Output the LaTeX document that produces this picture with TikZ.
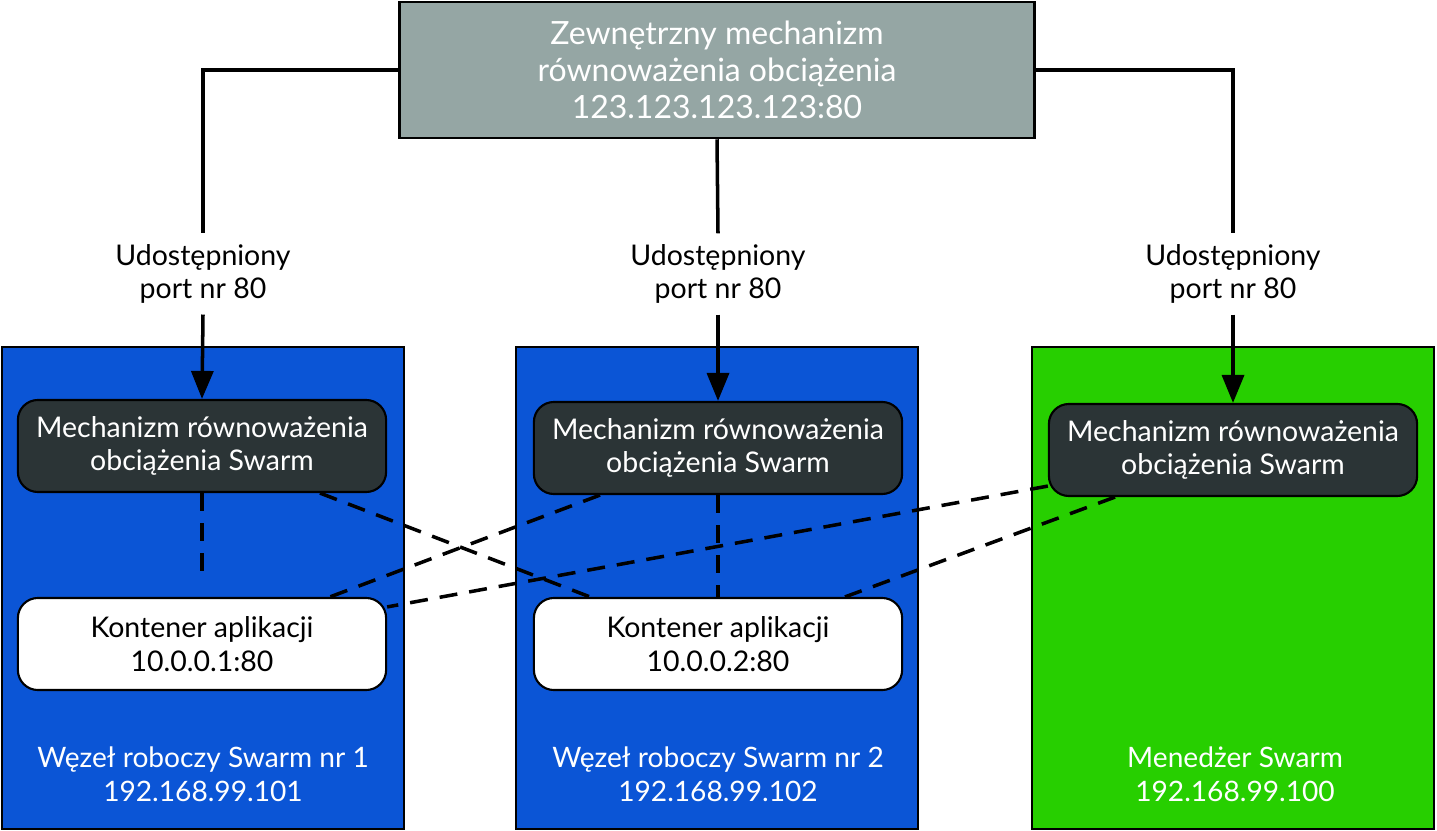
\documentclass[tikz,border=0pt]{standalone}
\usepackage{fontspec}
\setmainfont{Lato}
\usetikzlibrary{arrows.meta,calc}
\definecolor{ExtClr}{RGB}{149,166,164}
\definecolor{WorkerClr}{RGB}{11,85,214}
\definecolor{ManagerClr}{RGB}{39,207,0}
\definecolor{BalancerClr}{RGB}{43,52,54}

\begin{document}
\begin{tikzpicture}[x=0.01cm,y=-0.01cm,
  extbox/.style={draw=black,line width=0.7pt,fill=ExtClr,text=white,
    minimum width=6.35cm,minimum height=1.36cm,align=center,
    font=\fontsize{9.1}{10.5}\selectfont},
  nodebox/.style={draw=black,line width=0.6pt,minimum width=4.02cm,
    minimum height=4.82cm},
  swarmlb/.style={draw=black,line width=0.6pt,fill=BalancerClr,text=white,
    rounded corners=0.2cm,minimum width=3.68cm,minimum height=0.92cm,
    align=center,font=\fontsize{8.1}{9.6}\selectfont},
  appbox/.style={swarmlb,fill=white,text=black},
  portlbl/.style={align=center,inner sep=0.1cm,font=\fontsize{8.1}{9.6}\selectfont},
  nodelbl/.style={align=center,text=white,font=\fontsize{8}{9.6}\selectfont},
  link/.style={line width=1pt},
  route/.style={line width=1pt,dash pattern=on 0.18cm off 0.12cm}]
\useasboundingbox (0,0) rectangle (1437,831);

% External load balancer.
\node[extbox] (ext) at (717,70)
  {Zewnętrzny mechanizm\\równoważenia obciążenia\\123.123.123.123:80};

% The three Swarm nodes.
\node[nodebox,fill=WorkerClr] (w1) at (203,588) {};
\node[nodebox,fill=WorkerClr] (w2) at (717,588) {};
\node[nodebox,fill=ManagerClr] (m) at (1233,588) {};

\node[nodelbl] (w1lbl) at (203,774) {Węzeł roboczy Swarm nr 1\\192.168.99.101};
\node[nodelbl] (w2lbl) at (718,774) {Węzeł roboczy Swarm nr 2\\192.168.99.102};
\node[nodelbl] (mlbl) at (1235,774) {Menedżer Swarm\\192.168.99.100};

% Swarm load balancers and containers.
\node[swarmlb] (lb1) at (202,446) {Mechanizm równoważenia\\obciążenia Swarm};
\node[swarmlb] (lb2) at (718,448) {Mechanizm równoważenia\\obciążenia Swarm};
\node[swarmlb] (lb3) at (1233,450) {Mechanizm równoważenia\\obciążenia Swarm};
\node[appbox] (c1) at (202,644) {Kontener aplikacji\\10.0.0.1:80};
\node[appbox] (c2) at (718,644) {Kontener aplikacji\\10.0.0.2:80};

% Published ports.
\node[portlbl] (p1) at (203,274) {Udostępniony\\port nr 80};
\node[portlbl] (p2) at (718,274) {Udostępniony\\port nr 80};
\node[portlbl] (p3) at (1233,274) {Udostępniony\\port nr 80};

\draw[link] (ext.west) -| (p1.north);
\draw[link] (ext.south) -- (p2.north);
\draw[link] (ext.east) -| (p3.north);
\draw[link,-{Triangle[length=0.28cm,width=0.22cm]}] (p1.south) -- (lb1.north);
\draw[link,-{Triangle[length=0.28cm,width=0.22cm]}] (p2.south) -- (lb2.north);
\draw[link,-{Triangle[length=0.28cm,width=0.22cm]}] (p3.south) -- (lb3.north);

% Routing mesh.
\draw[route,shorten >=0.2cm] (lb1.south) -- (c1.north);
\draw[route] (lb2.south) -- (c2.north);
\draw[route] ($(lb1.south)+(118,0)$) -- ($(c2.north)+(-128,0)$);
\draw[route] ($(lb2.south)+(-118,0)$) -- ($(c1.north)+(128,0)$);
\draw[route] ($(lb3.south west)+(0,-11)$) -- ($(c1.north east)+(0,10)$);
\draw[route] ($(lb3.south)+(-118,0)$) -- ($(c2.north)+(127,0)$);

\end{tikzpicture}
\end{document}
